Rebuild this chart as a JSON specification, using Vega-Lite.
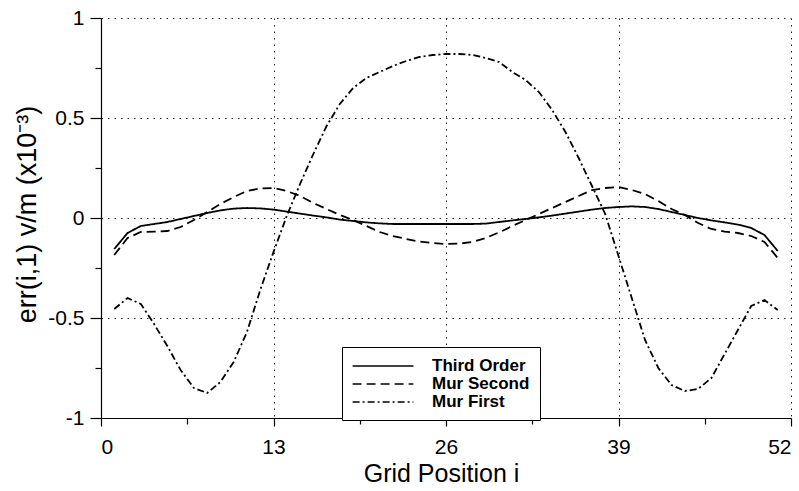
{
  "$schema": "https://vega.github.io/schema/vega-lite/v6.json",
  "width": 690,
  "height": 400,
  "autosize": {"type": "none"},
  "padding": {"left": 101, "top": 18, "right": 8, "bottom": 73},
  "background": "white",
  "config": {"view": {"stroke": null}, "font": "Liberation Sans"},
  "data": {"values": [
    {"i": 1, "Third Order": -0.155, "Mur Second": -0.185, "Mur First": -0.455},
    {"i": 2, "Third Order": -0.075, "Mur Second": -0.10, "Mur First": -0.40},
    {"i": 3, "Third Order": -0.04, "Mur Second": -0.07, "Mur First": -0.43},
    {"i": 4, "Third Order": -0.03, "Mur Second": -0.068, "Mur First": -0.53},
    {"i": 5, "Third Order": -0.02, "Mur Second": -0.065, "Mur First": -0.64},
    {"i": 6, "Third Order": -0.005, "Mur Second": -0.045, "Mur First": -0.76},
    {"i": 7, "Third Order": 0.01, "Mur Second": -0.01, "Mur First": -0.85},
    {"i": 8, "Third Order": 0.025, "Mur Second": 0.03, "Mur First": -0.875},
    {"i": 9, "Third Order": 0.038, "Mur Second": 0.07, "Mur First": -0.82},
    {"i": 10, "Third Order": 0.047, "Mur Second": 0.105, "Mur First": -0.72},
    {"i": 11, "Third Order": 0.05, "Mur Second": 0.135, "Mur First": -0.57},
    {"i": 12, "Third Order": 0.048, "Mur Second": 0.148, "Mur First": -0.36},
    {"i": 13, "Third Order": 0.042, "Mur Second": 0.15, "Mur First": -0.17},
    {"i": 14, "Third Order": 0.032, "Mur Second": 0.135, "Mur First": 0.01},
    {"i": 15, "Third Order": 0.022, "Mur Second": 0.11, "Mur First": 0.17},
    {"i": 16, "Third Order": 0.012, "Mur Second": 0.075, "Mur First": 0.32},
    {"i": 17, "Third Order": 0.003, "Mur Second": 0.045, "Mur First": 0.46},
    {"i": 18, "Third Order": -0.008, "Mur Second": 0.015, "Mur First": 0.57},
    {"i": 19, "Third Order": -0.015, "Mur Second": -0.01, "Mur First": 0.65},
    {"i": 20, "Third Order": -0.022, "Mur Second": -0.04, "Mur First": 0.70},
    {"i": 21, "Third Order": -0.027, "Mur Second": -0.07, "Mur First": 0.73},
    {"i": 22, "Third Order": -0.03, "Mur Second": -0.09, "Mur First": 0.76},
    {"i": 23, "Third Order": -0.03, "Mur Second": -0.105, "Mur First": 0.785},
    {"i": 24, "Third Order": -0.03, "Mur Second": -0.118, "Mur First": 0.805},
    {"i": 25, "Third Order": -0.03, "Mur Second": -0.125, "Mur First": 0.815},
    {"i": 26, "Third Order": -0.03, "Mur Second": -0.13, "Mur First": 0.82},
    {"i": 27, "Third Order": -0.03, "Mur Second": -0.128, "Mur First": 0.82},
    {"i": 28, "Third Order": -0.03, "Mur Second": -0.12, "Mur First": 0.815},
    {"i": 29, "Third Order": -0.028, "Mur Second": -0.10, "Mur First": 0.80},
    {"i": 30, "Third Order": -0.02, "Mur Second": -0.072, "Mur First": 0.78},
    {"i": 31, "Third Order": -0.012, "Mur Second": -0.04, "Mur First": 0.73},
    {"i": 32, "Third Order": -0.005, "Mur Second": -0.01, "Mur First": 0.69},
    {"i": 33, "Third Order": 0.003, "Mur Second": 0.02, "Mur First": 0.63},
    {"i": 34, "Third Order": 0.012, "Mur Second": 0.05, "Mur First": 0.54},
    {"i": 35, "Third Order": 0.022, "Mur Second": 0.08, "Mur First": 0.43},
    {"i": 36, "Third Order": 0.032, "Mur Second": 0.11, "Mur First": 0.30},
    {"i": 37, "Third Order": 0.042, "Mur Second": 0.14, "Mur First": 0.16},
    {"i": 38, "Third Order": 0.05, "Mur Second": 0.15, "Mur First": 0.02},
    {"i": 39, "Third Order": 0.055, "Mur Second": 0.155, "Mur First": -0.19},
    {"i": 40, "Third Order": 0.058, "Mur Second": 0.14, "Mur First": -0.40},
    {"i": 41, "Third Order": 0.055, "Mur Second": 0.12, "Mur First": -0.61},
    {"i": 42, "Third Order": 0.045, "Mur Second": 0.085, "Mur First": -0.75},
    {"i": 43, "Third Order": 0.03, "Mur Second": 0.045, "Mur First": -0.835},
    {"i": 44, "Third Order": 0.015, "Mur Second": 0.015, "Mur First": -0.865},
    {"i": 45, "Third Order": 0.0, "Mur Second": -0.025, "Mur First": -0.855},
    {"i": 46, "Third Order": -0.012, "Mur Second": -0.055, "Mur First": -0.80},
    {"i": 47, "Third Order": -0.022, "Mur Second": -0.068, "Mur First": -0.68},
    {"i": 48, "Third Order": -0.033, "Mur Second": -0.075, "Mur First": -0.56},
    {"i": 49, "Third Order": -0.05, "Mur Second": -0.09, "Mur First": -0.44},
    {"i": 50, "Third Order": -0.085, "Mur Second": -0.12, "Mur First": -0.41},
    {"i": 51, "Third Order": -0.165, "Mur Second": -0.20, "Mur First": -0.46}
  ]},
  "layer": [
    {
      "transform": [{"fold": ["Third Order", "Mur Second", "Mur First"], "as": ["series", "v"]}],
      "mark": {"type": "line", "color": "black", "strokeWidth": 1.8},
      "encoding": {
        "x": {
          "field": "i", "type": "quantitative",
          "scale": {"domain": [0, 52], "nice": false, "zero": false},
          "axis": {
            "orient": "bottom",
            "values": [0, 13, 26, 39, 52],
            "title": "Grid Position i",
            "grid": true, "gridDash": [1.5, 5], "gridColor": "#222", "gridWidth": 1,
            "domainColor": "black", "domainWidth": 1.2,
            "tickColor": "black", "tickSize": 8, "tickWidth": 1.2,
            "labelFontSize": 21, "labelColor": "black", "labelPadding": 10,
            "labelExpr": "'' + datum.value",
            "titleFontSize": 25, "titleFontWeight": "normal", "titleColor": "black",
            "titleX": 340, "titleY": 63, "titleBaseline": "alphabetic", "titleAlign": "center"
          }
        },
        "y": {
          "field": "v", "type": "quantitative",
          "scale": {"domain": [-1, 1], "nice": false},
          "axis": {
            "orient": "left",
            "values": [-1, -0.5, 0, 0.5, 1],
            "title": "err(i,1) v/m (x10⁻³)",
            "grid": true, "gridDash": [1.5, 5], "gridColor": "#222", "gridWidth": 1,
            "domainColor": "black", "domainWidth": 1.2,
            "tickColor": "black", "tickSize": 11, "tickWidth": 1.2,
            "labelFontSize": 21, "labelColor": "black", "labelPadding": 6,
            "labelExpr": "'' + datum.value",
            "titleFontSize": 27, "titleFontWeight": "normal", "titleColor": "black",
            "titleX": -74, "titleY": 196, "titleBaseline": "middle", "titleAlign": "center"
          }
        },
        "strokeDash": {
          "field": "series", "type": "nominal",
          "scale": {"domain": ["Third Order", "Mur Second", "Mur First"], "range": [[1, 0], [9, 5], [7, 3, 2, 3]]},
          "legend": {
            "title": null, "orient": "none", "legendX": 241, "legendY": 329,
            "direction": "vertical",
            "symbolType": "M-3.8,0H3.8", "symbolSize": 256, "symbolStrokeWidth": 1.5,
            "symbolStrokeColor": "black", "symbolOffset": 22,
            "labelFontSize": 17, "labelFontWeight": "bold", "labelColor": "black",
            "labelOffset": 40, "padding": 10, "rowPadding": 1,
            "strokeColor": "black", "fillColor": "white"
          }
        }
      }
    },
    {
      "mark": {"type": "point", "opacity": 0},
      "encoding": {
        "x": {
          "field": "i", "type": "quantitative",
          "scale": {"domain": [0, 52], "nice": false, "zero": false},
          "axis": {"orient": "bottom", "values": [6.5, 19.5, 32.5, 45.5], "labels": false, "domain": false, "grid": false, "tickSize": 6, "tickColor": "black", "tickWidth": 1.2, "title": null}
        },
        "y": {
          "field": "Third Order", "type": "quantitative",
          "scale": {"domain": [-1, 1], "nice": false},
          "axis": {"orient": "left", "values": [-0.75, -0.25, 0.25, 0.75], "labels": false, "domain": false, "grid": false, "tickSize": 6, "tickColor": "black", "tickWidth": 1.2, "title": null}
        }
      }
    }
  ],
  "resolve": {"axis": {"x": "independent", "y": "independent"}}
}
